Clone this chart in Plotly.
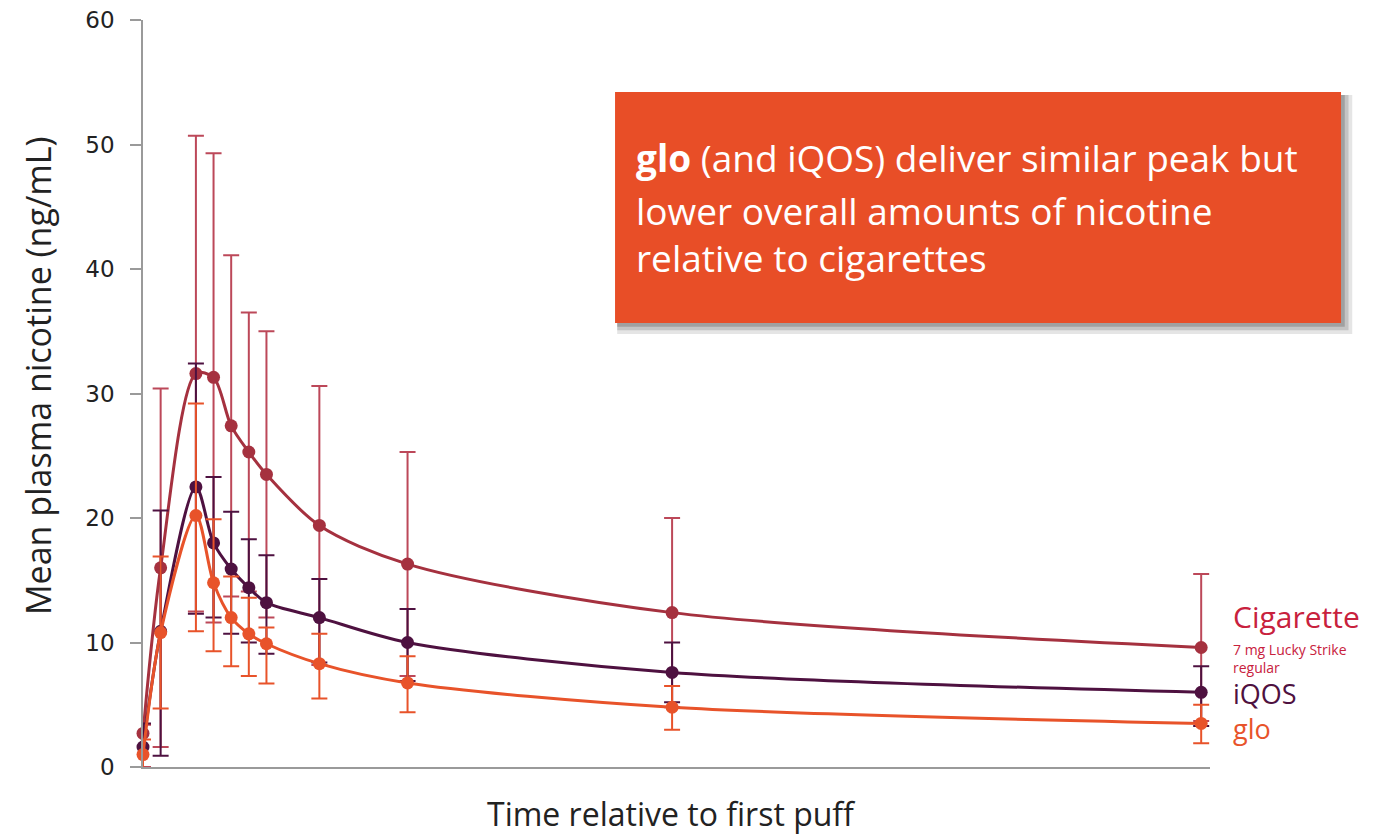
import plotly.graph_objects as go

# ---- data (minutes after first puff, ng/mL) ----
time_min = [0, 2, 6, 8, 10, 12, 14, 20, 30, 60, 120]

cig_mean = [2.7, 16.0, 31.6, 31.3, 27.4, 25.3, 23.5, 19.4, 16.3, 12.4, 9.6]
cig_upper = [3.4, 30.4, 50.7, 49.3, 41.1, 36.5, 35.0, 30.6, 25.3, 20.0, 15.5]
cig_lower = [0.0, 1.6, 12.5, 11.6, 13.7, 14.1, 12.0, 8.2, 7.3, 4.8, 3.7]

iqos_mean = [1.6, 10.9, 22.5, 18.0, 15.9, 14.4, 13.2, 12.0, 10.0, 7.6, 6.0]
iqos_upper = [3.5, 20.6, 32.4, 23.3, 20.5, 18.3, 17.0, 15.1, 12.7, 10.0, 8.1]
iqos_lower = [-0.3, 0.9, 12.3, 12.0, 10.7, 10.0, 9.1, 8.4, 6.9, 5.2, 3.3]

glo_mean = [1.0, 10.8, 20.2, 14.8, 12.0, 10.7, 9.9, 8.3, 6.75, 4.8, 3.5]
glo_upper = [2.2, 16.9, 29.2, 19.9, 15.3, 13.6, 11.2, 10.7, 8.9, 6.5, 5.0]
glo_lower = [-0.2, 4.7, 10.9, 9.3, 8.1, 7.3, 6.7, 5.5, 4.4, 3.0, 1.9]

y_ticks = [0, 10, 20, 30, 40, 50, 60]

CIG = "#a5313f"
IQOS = "#4e1140"
GLO = "#e8532a"
FONT = "Open Sans"

fig = go.Figure()


def add_series(mean, upper, lower, color, err_color):
    plus = [u - m for u, m in zip(upper, mean)]
    minus = [m - l for m, l in zip(mean, lower)]
    fig.add_trace(go.Scatter(
        x=time_min, y=mean, mode="lines+markers",
        line=dict(color=color, width=3, shape="spline", smoothing=0.85),
        marker=dict(color=color, size=13),
        error_y=dict(type="data", symmetric=False, array=plus, arrayminus=minus,
                     color=err_color, thickness=2, width=8),
        cliponaxis=False, showlegend=False,
    ))


add_series(cig_mean, cig_upper, cig_lower, CIG, "rgba(176,40,60,0.85)")
add_series(iqos_mean, iqos_upper, iqos_lower, IQOS, IQOS)
add_series(glo_mean, glo_upper, glo_lower, GLO, GLO)

# ---- callout box with shadow ----
bx0, bx1, by0, by1 = 0.4424, 1.1228, 0.5944, 0.9036
for i, op in enumerate([0.10, 0.14, 0.18]):
    d = 0.0035 * (3 - i)
    fig.add_shape(type="rect", xref="paper", yref="paper",
                  x0=bx0 + 0.002, x1=bx1 + d, y0=by0 - d * 1.4, y1=by1 - 0.004,
                  fillcolor=f"rgba(0,0,0,{op})", line=dict(width=0), layer="above")
fig.add_shape(type="rect", xref="paper", yref="paper",
              x0=bx0, x1=bx1, y0=by0, y1=by1,
              fillcolor="#e84e27", line=dict(width=0), layer="above")

box_lines = ["<b>glo</b> (and iQOS) deliver similar peak but",
             "lower overall amounts of nicotine",
             "relative to cigarettes"]
line_y = [0.8153, 0.7456, 0.6814]
for txt, yy in zip(box_lines, line_y):
    fig.add_annotation(text=txt, xref="paper", yref="paper", x=0.4602, y=yy,
                       xanchor="left", yanchor="middle", showarrow=False,
                       font=dict(family=FONT, size=37, color="white"))

# ---- series labels on the right ----
lx = 1.0197
fig.add_annotation(text="Cigarette", xref="paper", yref="paper", x=lx, y=0.2009,
                   xanchor="left", yanchor="middle", showarrow=False,
                   font=dict(family=FONT, size=30, color="#c8213d"))
fig.add_annotation(text="7 mg Lucky Strike<br>regular", xref="paper", yref="paper", x=lx, y=0.1459,
                   xanchor="left", yanchor="middle", showarrow=False, align="left",
                   font=dict(family=FONT, size=14, color="#c8213d"))
fig.add_annotation(text=f"<span style='color:{IQOS}'>iQOS</span><br>"
                        f"<span style='color:{GLO}'>glo</span>",
                   xref="paper", yref="paper", x=lx, y=0.0750,
                   xanchor="left", yanchor="middle", showarrow=False, align="left",
                   font=dict(family=FONT, size=27, color=IQOS))

# ---- axis titles ----
fig.add_annotation(text="Mean plasma nicotine (ng/mL)", xref="paper", yref="paper",
                   x=-0.0984, y=0.5234, textangle=-90, showarrow=False,
                   xanchor="center", yanchor="middle",
                   font=dict(family=FONT, size=34, color="#222"))
fig.add_annotation(text="Time relative to first puff", xref="paper", yref="paper",
                   x=0.4949, y=-0.0629, showarrow=False,
                   xanchor="center", yanchor="middle",
                   font=dict(family=FONT, size=32, color="#222"))

fig.update_layout(
    width=1374, height=828,
    margin=dict(l=135, r=172, t=12, b=69),
    paper_bgcolor="white", plot_bgcolor="white",
    font=dict(family=FONT, color="#222"),
    xaxis=dict(range=[0, 121], showgrid=False, zeroline=False, automargin=False,
               showline=True, linecolor="#9a9a9a", linewidth=1.5,
               showticklabels=False, ticks=""),
    yaxis=dict(range=[0, 60], tickvals=y_ticks, showgrid=False, zeroline=False,
               automargin=False, ticklabeloverflow="allow", ticklabelstandoff=11,
               showline=True, linecolor="#9a9a9a", linewidth=1.5,
               ticks="outside", ticklen=11, tickcolor="#9a9a9a", tickwidth=1.5,
               tickfont=dict(family="DejaVu Sans", size=23, color="#222")),
)

fig.write_html("out.html")
